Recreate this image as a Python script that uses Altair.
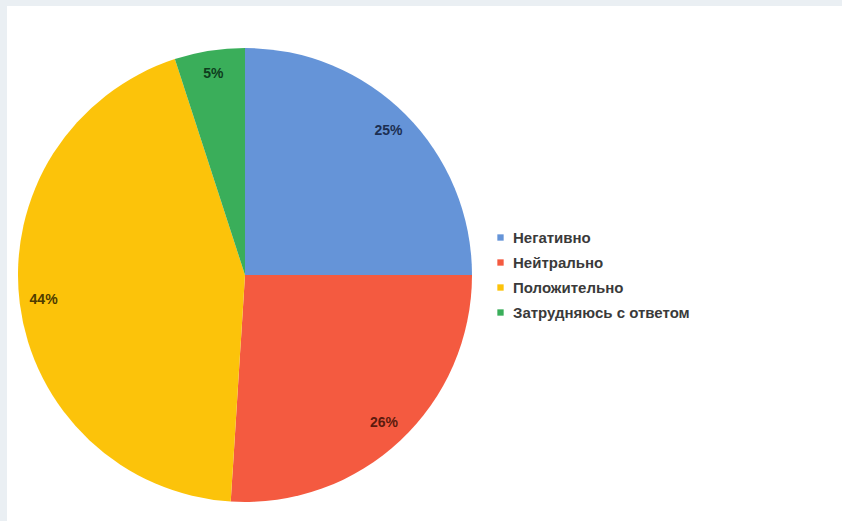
import altair as alt
import pandas as pd

categories = ["Негативно", "Нейтрально", "Положительно", "Затрудняюсь с ответом"]
values = [25, 26, 44, 5]
labels = ["25%", "26%", "44%", "5%"]
slice_colors = ["#6594d8", "#f45a40", "#fcc30a", "#3aae5a"]
label_colors = ["#1c2f52", "#5c1a0e", "#4d3b00", "#0e3d1d"]

df = pd.DataFrame({
    "cat": categories,
    "value": values,
    "label": labels,
    "order": list(range(len(categories))),
})

cx, cy, r = 238, 269, 227

base = alt.Chart(df).encode(
    theta=alt.Theta("value:Q", stack=True),
    order=alt.Order("order:Q"),
)

pie = base.mark_arc(radius=r).encode(
    x=alt.value(cx),
    y=alt.value(cy),
    color=alt.Color(
        "cat:N",
        scale=alt.Scale(domain=categories, range=slice_colors),
        sort=categories,
        legend=alt.Legend(
            title=None,
            orient="none",
            legendX=486,
            legendY=224,
            symbolType="square",
            symbolSize=40,
            symbolStrokeWidth=0,
            labelFontSize=15,
            labelFont="Liberation Sans",
            labelFontWeight="bold",
            labelColor="#3a3a3a",
            labelLimit=400,
            rowPadding=9,
            labelOffset=5,
        ),
    ),
)

text = base.mark_text(
    radius=203, font="Liberation Sans", fontSize=14, fontWeight="bold"
).encode(
    x=alt.value(cx),
    y=alt.value(cy),
    text="label:N",
    color=alt.Color(
        "cat:N",
        scale=alt.Scale(domain=categories, range=label_colors),
        legend=None,
    ),
)

chart = (
    alt.layer(pie, text)
    .resolve_scale(color="independent")
    .properties(
        width=835,
        height=515,
        background="#eaeff3",
        padding={"left": 7, "top": 6, "right": 0, "bottom": 0},
    )
    .configure_view(fill="white", stroke=None)
)

chart.save("out.html", embed_options={"renderer": "svg", "actions": False})
